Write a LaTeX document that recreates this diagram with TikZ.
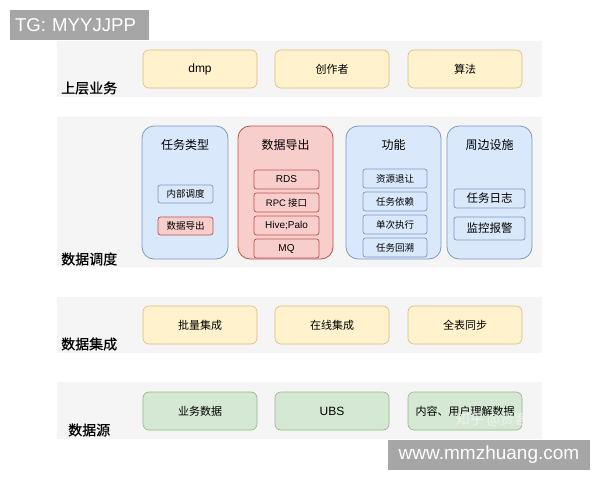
\documentclass[tikz,border=0pt]{standalone}
\usepackage{fontspec}
\setmainfont{Liberation Sans}
\newfontfamily\cjk{Noto Sans CJK SC}
\newfontfamily\cjkb[FakeBold=0.6]{Noto Sans CJK SC}
\definecolor{bandgray}{HTML}{F5F5F5}
\definecolor{yfill}{HTML}{FFF2CC}
\definecolor{ydraw}{HTML}{D6C07A}
\definecolor{bfill}{HTML}{DAE8FC}
\definecolor{bdraw}{HTML}{7F98BF}
\definecolor{rfill}{HTML}{F8CECC}
\definecolor{rdraw}{HTML}{B85450}
\definecolor{gfill}{HTML}{D5E8D4}
\definecolor{gdraw}{HTML}{90B882}
\definecolor{wmgray}{HTML}{A6A6A6}
\tikzset{
  fs/.style={font=\cjk\fontsize{#1}{#1}\selectfont},
  lat/.style={font=\rmfamily\fontsize{#1}{#1}\selectfont},
  band/.style={fill=bandgray, draw=none},
  bigbox/.style={draw=#1draw, fill=#1fill, rounded corners=6pt, line width=0.6pt, minimum width=114pt, minimum height=38pt, inner sep=0pt, fs=11},
  panel/.style={draw=#1draw, fill=#1fill, rounded corners=12pt, line width=0.8pt, minimum height=133pt, inner sep=0pt},
  sub/.style={draw=#1draw, fill=#1fill, rounded corners=2.5pt, line width=0.7pt, minimum height=19pt, inner sep=0pt, fs=9.5},
  ttl/.style={fs=12},
  lbl/.style={font=\cjkb\fontsize{14}{14}\selectfont, anchor=west, inner sep=0pt},
  wmbox/.style={fill=wmgray, text=white, inner sep=0pt, font=\fontsize{#1}{#1}\selectfont},
}
\begin{document}
\begin{tikzpicture}[x=1pt,y=-1pt]
\useasboundingbox[fill=white] (0,0) rectangle (600,480);
% bands
\fill[band] (57,41) rectangle (542,97);
\fill[band] (57,117) rectangle (542,267);
\fill[band] (57,297) rectangle (542,353);
\fill[band] (57,382) rectangle (542,439);
% layer 1
\node[bigbox=y, lat=12] (dmp) at (200,69) {dmp};
\node[bigbox=y] (czz) at (332,69) {创作者};
\node[bigbox=y] (sf) at (465,69) {算法};
\node[lbl] (l1) at (61,88) {上层业务};
% layer 2 panels
\node[panel=b, minimum width=86pt] (p1) at (185,192.5) {};
\node[panel=r, minimum width=95pt] (p2) at (285.5,192.5) {};
\node[panel=b, minimum width=95pt] (p3) at (393.5,192.5) {};
\node[panel=b, minimum width=85pt] (p4) at (489.5,192.5) {};
\node[ttl] (t1) at (185,145) {任务类型};
\node[ttl] (t2) at (285.5,145) {数据导出};
\node[ttl] (t3) at (393.5,145) {功能};
\node[ttl] (t4) at (489.5,145) {周边设施};
\node[sub=b, minimum width=55pt, minimum height=18pt] (s11) at (185.5,194) {内部调度};
\node[sub=r, minimum width=55pt, minimum height=18pt] (s12) at (185.5,226) {数据导出};
\node[sub=r, minimum width=65pt, lat=10] (s21) at (286.5,179.5) {RDS};
\node[sub=r, minimum width=65pt] (s22) at (286.5,202.5) {{\rmfamily RPC} 接口};
\node[sub=r, minimum width=65pt, lat=10] (s23) at (286.5,225.5) {Hive;Palo};
\node[sub=r, minimum width=65pt, lat=10] (s24) at (286.5,248.5) {MQ};
\node[sub=b, minimum width=64pt] (s31) at (395,178.5) {资源退让};
\node[sub=b, minimum width=64pt] (s32) at (395,201.5) {任务依赖};
\node[sub=b, minimum width=64pt] (s33) at (395,224.5) {单次执行};
\node[sub=b, minimum width=64pt] (s34) at (395,247.5) {任务回溯};
\node[sub=b, minimum width=71pt, fs=11.5] (s41) at (489.5,198.5) {任务日志};
\node[sub=b, minimum width=71pt, minimum height=23pt, fs=11.5] (s42) at (489.5,228.5) {监控报警};
\node[lbl] (l2) at (61,259) {数据调度};
% layer 3
\node[bigbox=y] (plj) at (200,325) {批量集成};
\node[bigbox=y] (zxj) at (332,325) {在线集成};
\node[bigbox=y] (qtb) at (465,325) {全表同步};
\node[lbl] (l3) at (61,344) {数据集成};
% layer 4
\node[bigbox=g] (ywsj) at (200,411) {业务数据};
\node[bigbox=g, lat=12] (ubs) at (332,411) {UBS};
\node[bigbox=g] (nr) at (465,411) {内容、用户理解数据};
\node[lbl] (l4) at (68,430) {数据源};
% watermarks
\node[fs=14, text=white!92!gray, opacity=0.8] (zh) at (492,420) {知乎 @贤客};
\node[wmbox=18.6, minimum width=139pt, minimum height=30pt, text width=139pt, align=left] (tg) at (79.5,25) {\hspace*{5pt}TG: MYYJJPP};
\node[wmbox=19, minimum width=202pt, minimum height=30pt] (www) at (489,455) {www.mmzhuang.com};
\end{tikzpicture}
\end{document}
